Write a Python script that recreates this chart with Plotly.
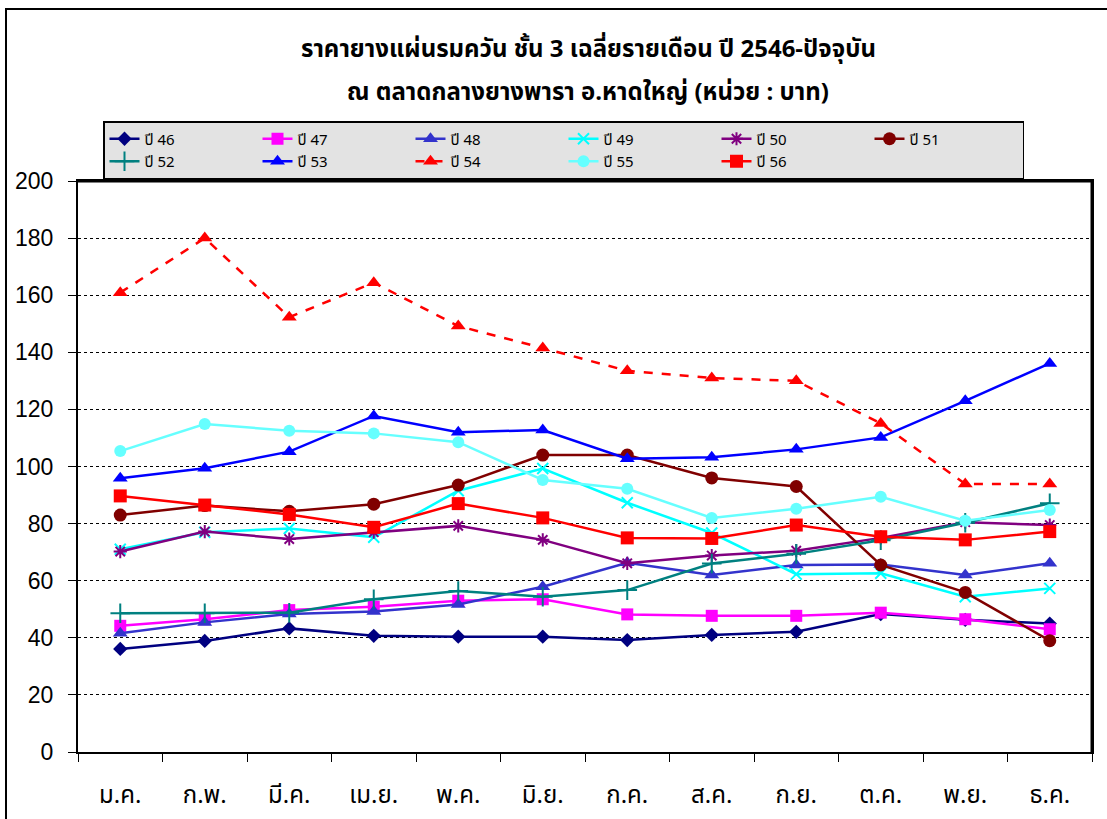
import plotly.graph_objects as go

months = ["ม.ค.", "ก.พ.", "มี.ค.", "เม.ย.", "พ.ค.", "มิ.ย.", "ก.ค.", "ส.ค.", "ก.ย.", "ต.ค.", "พ.ย.", "ธ.ค."]

y46 = [36.1, 38.9, 43.3, 40.7, 40.4, 40.4, 39.2, 41.0, 42.1, 48.3, 46.3, 45.0]
y47 = [44.2, 46.5, 49.7, 50.9, 53.0, 53.5, 48.2, 47.7, 47.7, 48.8, 46.5, 43.0]
y48 = [41.6, 45.4, 48.3, 49.2, 51.7, 57.9, 66.3, 62.0, 65.5, 65.7, 62.0, 66.1]
y49 = [71.0, 77.0, 78.3, 75.2, 91.5, 99.3, 87.3, 76.7, 62.3, 62.6, 54.4, 57.3]
y50 = [70.2, 77.2, 74.6, 77.0, 79.2, 74.3, 66.1, 68.8, 70.5, 75.0, 80.5, 79.5]
y51 = [83.0, 86.3, 84.3, 86.8, 93.5, 104.0, 104.0, 96.0, 93.0, 65.5, 55.9, 39.0]
y52 = [48.6, 48.6, 48.8, 53.5, 56.4, 54.4, 56.7, 66.0, 69.4, 74.2, 80.3, 87.1]
y53 = [95.9, 99.4, 105.2, 117.7, 112.0, 112.8, 102.7, 103.2, 106.0, 110.2, 123.0, 136.1]
y54 = [160.9, 180.0, 152.3, 164.4, 149.2, 141.5, 133.5, 131.0, 130.0, 115.1, 93.9, 93.9]
y55 = [105.4, 114.9, 112.5, 111.6, 108.5, 95.3, 92.2, 82.0, 85.2, 89.4, 81.0, 84.8]
y56 = [89.7, 86.5, 83.2, 78.7, 87.0, 82.0, 75.0, 74.8, 79.5, 75.4, 74.3, 77.2]

series = [
    ("ปี 46", y46, "#000080", "diamond", "solid", 11),
    ("ปี 47", y47, "#FF00FF", "square", "solid", 12),
    ("ปี 48", y48, "#3333CC", "triangle-up", "solid", 13),
    ("ปี 49", y49, "#00FFFF", "x-thin", "solid", 11),
    ("ปี 50", y50, "#800080", "asterisk", "solid", 11),
    ("ปี 51", y51, "#800000", "circle", "solid", 13),
    ("ปี 52", y52, "#008080", "cross-thin", "solid", 14),
    ("ปี 53", y53, "#0000FF", "triangle-up", "solid", 13),
    ("ปี 54", y54, "#FF0000", "triangle-up", "dash", 13),
    ("ปี 55", y55, "#66FFFF", "circle", "solid", 12),
    ("ปี 56", y56, "#FF0000", "square", "solid", 13),
]

THAI = "Tahoma, 'Noto Sans Thai', 'Noto Sans', 'DejaVu Sans', sans-serif"

fig = go.Figure()
for name, vals, color, sym, dash, size in series:
    thin = sym in ("x-thin", "asterisk", "cross-thin")
    fig.add_trace(go.Scatter(
        x=months, y=vals, name=name, mode="lines+markers",
        line=dict(color=color, width=2.5, dash=dash),
        marker=dict(symbol=sym, size=size, color=color,
                    line=dict(color=color, width=2 if thin else 0)),
    ))

W, H = 1107, 819
L, R, T, B = 78, 1092, 181, 752
pw, ph = R - L, B - T

def px(xp):
    return (xp - L) / pw

def py(yp):
    return (B - yp) / ph

fig.update_layout(
    width=W, height=H,
    margin=dict(l=L, r=W - R, t=T, b=H - B, autoexpand=False),
    paper_bgcolor="white", plot_bgcolor="white",
    showlegend=True,
    legend=dict(
        orientation="h", x=px(103), y=py(121), xanchor="left", yanchor="top",
        bgcolor="#E3E3E3", bordercolor="black", borderwidth=1.5,
        font=dict(family=THAI, size=15, color="black"),
        entrywidth=108, entrywidthmode="pixels", tracegroupgap=0,
        itemwidth=30,
    ),
    xaxis=dict(
        type="category", categoryorder="array", categoryarray=months,
        range=[-0.5, 11.5], showgrid=False, zeroline=False,
        showline=True, linecolor="black", linewidth=2, mirror=True,
        ticks="outside", tickson="boundaries", ticklen=8, tickcolor="black", tickwidth=1,
        tickfont=dict(family=THAI, size=24, color="black"),
        ticklabelstandoff=20,
    ),
    yaxis=dict(
        range=[0, 200], dtick=20, tick0=0,
        showgrid=True, gridcolor="black", gridwidth=1, griddash="dot",
        zeroline=False, showline=True, linecolor="black", linewidth=2, mirror=True,
        ticks="outside", ticklen=8, tickcolor="black", tickwidth=1,
        tickfont=dict(family="Liberation Sans, Arial, sans-serif", size=23, color="black"),
        ticklabelstandoff=10,
    ),
    annotations=[
        dict(text="<b>ราคายางแผ่นรมควัน ชั้น 3 เฉลี่ยรายเดือน ปี 2546-ปัจจุบัน</b>",
             xref="paper", yref="paper", x=px(588), y=py(50), xanchor="center", yanchor="middle",
             showarrow=False, font=dict(family=THAI, size=24, color="black")),
        dict(text="<b>ณ ตลาดกลางยางพารา อ.หาดใหญ่ (หน่วย : บาท)</b>",
             xref="paper", yref="paper", x=px(588), y=py(93), xanchor="center", yanchor="middle",
             showarrow=False, font=dict(family=THAI, size=24, color="black")),
    ],
    shapes=[
        dict(type="rect", xref="paper", yref="paper", x0=px(6), x1=px(1120), y0=py(9), y1=py(830),
             line=dict(color="black", width=2), fillcolor="rgba(0,0,0,0)", layer="below"),
        dict(type="line", xref="paper", yref="paper", x0=0, x1=1, y0=1, y1=1,
             line=dict(color="black", width=3)),
        dict(type="line", xref="paper", yref="paper", x0=1, x1=1, y0=0, y1=1,
             line=dict(color="black", width=3)),
    ],
)

fig.write_html(
    "out.html",
    config={"displayModeBar": False},
    post_script="document.body.style.margin='0';document.body.style.overflow='hidden';",
)
